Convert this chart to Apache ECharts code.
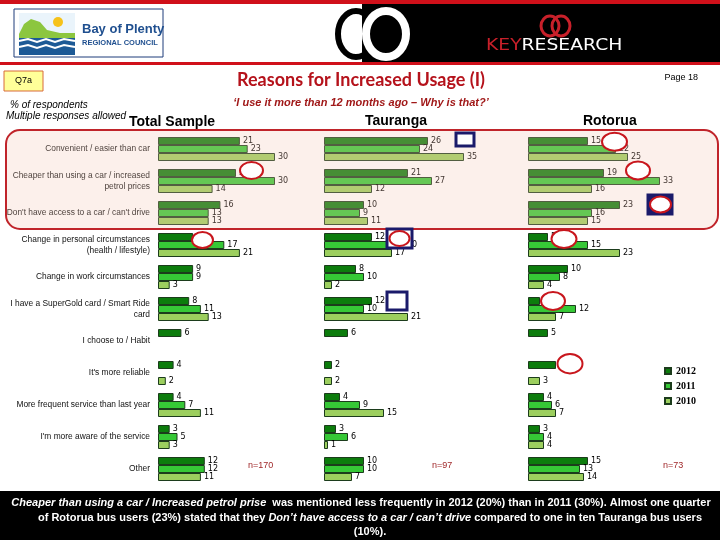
<!DOCTYPE html>
<html><head><meta charset="utf-8">
<script src="https://cdn.jsdelivr.net/npm/echarts@6/dist/echarts.min.js"></script>
<style>html,body{margin:0;padding:0;background:#fff}#c{width:720px;height:540px}</style>
</head><body><div id="c"></div>
<script>
const categories = [
  'Convenient / easier than car',
  'Cheaper than using a car / increased\npetrol prices',
  "Don't have access to a car / can't drive",
  'Change in personal circumstances\n(health / lifestyle)',
  'Change in work circumstances',
  'I have a SuperGold card / Smart Ride\ncard',
  'I choose to / Habit',
  "It's more reliable",
  'More frequent service than last year',
  "I'm more aware of the service",
  'Other'
];
const years = ['2012', '2011', '2010'];
const total2012 = [21, 20, 16, 9, 9, 8, 6, 4, 4, 3, 12];
const total2011 = [23, 30, 13, 17, 9, 11, null, null, 7, 5, 12];
const total2010 = [30, 14, 13, 21, 3, 13, null, 2, 11, 3, 11];
const tauranga2012 = [26, 21, 10, 12, 8, 12, 6, 2, 4, 3, 10];
const tauranga2011 = [24, 27, 9, 20, 10, 10, null, null, 9, 6, 10];
const tauranga2010 = [35, 12, 11, 17, 2, 21, null, 2, 15, 1, 7];
const rotorua2012 = [15, 19, 23, 5, 10, 3, 5, 7, 4, 3, 15];
const rotorua2011 = [22, 33, 16, 15, 8, 12, null, null, 6, 4, 13];
const rotorua2010 = [25, 16, 15, 23, 4, 7, null, 3, 7, 4, 14];
const panelTitles = ['Total Sample', 'Tauranga', 'Rotorua'];
const sampleSizes = ['n=170', 'n=97', 'n=73'];

const panels = [
  [total2012, total2011, total2010],
  [tauranga2012, tauranga2011, tauranga2010],
  [rotorua2012, rotorua2011, rotorua2010]
];
const colors = ['#0c7c0c', '#36c836', '#9ccf5e'];
const F = 'Liberation Sans, Arial, sans-serif';
const grids = [
  {left: 158, top: 133, width: 156, height: 352},
  {left: 324, top: 133, width: 160, height: 352},
  {left: 528, top: 133, width: 160, height: 352}
];

const series = [];
panels.forEach((p, pi) => {
  p.forEach((d, yi) => {
    series.push({
      type: 'bar', name: years[yi], xAxisIndex: pi, yAxisIndex: pi, data: d,
      barGap: '0%', barCategoryGap: '25%',
      itemStyle: {color: colors[yi], borderColor: '#1c3c1c', borderWidth: 1},
      label: {show: true, position: 'right', distance: 3, fontSize: 8, color: '#000', fontFamily: 'DejaVu Sans, sans-serif',
        formatter: (pr) => pr.value == null ? '' : String(pr.value)}
    });
  });
});

function ell(cx, cy, rx, ry) {
  return {type: 'ellipse', z: 60, shape: {cx, cy, rx, ry}, style: {fill: '#fff', stroke: '#c8161d', lineWidth: 2}};
}
function sq(x, y, w, h, fill) {
  return {type: 'rect', z: 58, shape: {x, y, width: w, height: h}, style: {fill: fill || '#fff', stroke: '#1a1a6a', lineWidth: 3}};
}

const graphic = [
  // header
  {type: 'rect', shape: {x: 0, y: 0, width: 720, height: 4}, style: {fill: '#d0101a'}},
  {type: 'rect', shape: {x: 0, y: 62, width: 720, height: 3}, style: {fill: '#d0101a'}},
  {type: 'rect', shape: {x: 362, y: 4, width: 358, height: 58}, style: {fill: '#000'}},
  {type: 'ellipse', shape: {cx: 356, cy: 34, rx: 18, ry: 23}, style: {fill: 'none', stroke: '#000', lineWidth: 6}},
  {type: 'ellipse', shape: {cx: 386, cy: 34, rx: 20, ry: 23}, style: {fill: 'none', stroke: '#fff', lineWidth: 8}},
  {type: 'ellipse', shape: {cx: 550, cy: 26, rx: 9, ry: 10}, style: {fill: 'none', stroke: '#c8202a', lineWidth: 3}},
  {type: 'ellipse', shape: {cx: 561, cy: 26, rx: 9, ry: 10}, style: {fill: 'none', stroke: '#c8202a', lineWidth: 3}},
  {type: 'text', x: 486, y: 46, scaleX: 1.25, style: {text: '{r|KEY}{w|RESEARCH}', verticalAlign: 'middle',
    rich: {r: {fill: '#c8202a', font: '15px DejaVu Sans, sans-serif'}, w: {fill: '#fff', font: '15px DejaVu Sans, sans-serif'}}}},
  // BOP logo
  {type: 'rect', shape: {x: 14, y: 9, width: 149, height: 48}, style: {fill: '#fff', stroke: '#1f3c7a', lineWidth: 1}},
  {type: 'rect', shape: {x: 19, y: 13, width: 56, height: 42}, style: {fill: '#eaf4fb'}},
  {type: 'circle', shape: {cx: 58, cy: 22, r: 5}, style: {fill: '#f6c21a'}},
  {type: 'polygon', shape: {points: [[19, 34], [24, 24], [31, 19], [40, 22], [47, 30], [60, 33], [75, 33], [75, 41], [19, 41]]}, style: {fill: '#8cc63f'}},
  {type: 'rect', shape: {x: 19, y: 38, width: 56, height: 17}, style: {fill: '#1d5a96'}},
  {type: 'polyline', shape: {points: [[19, 41], [28, 39], [37, 42], [46, 39], [55, 42], [64, 39], [75, 41]]}, style: {stroke: '#fff', lineWidth: 2, fill: 'none'}},
  {type: 'polyline', shape: {points: [[19, 47], [28, 45], [37, 48], [46, 45], [55, 48], [64, 45], [75, 47]]}, style: {stroke: '#fff', lineWidth: 2, fill: 'none'}},
  {type: 'text', x: 82, y: 29, style: {text: 'Bay of Plenty', fill: '#1f4f8f', font: 'bold 13px ' + F, verticalAlign: 'middle'}},
  {type: 'text', x: 82, y: 43, style: {text: 'REGIONAL COUNCIL', fill: '#1f4f8f', font: 'bold 7.5px ' + F, verticalAlign: 'middle'}},
  // titles
  {type: 'rect', shape: {x: 4, y: 71, width: 39, height: 20}, style: {fill: '#ffff99', stroke: '#d86a3a', lineWidth: 1}},
  {type: 'text', x: 23.5, y: 81, style: {text: 'Q7a', fill: '#000', font: '9px ' + F, align: 'center', verticalAlign: 'middle'}},
  {type: 'text', x: 361, y: 80, style: {text: 'Reasons for Increased Usage (I)', fill: '#b5121b', font: 'bold 18px Lato, Open Sans, sans-serif', align: 'center', verticalAlign: 'middle'}},
  {type: 'text', x: 698, y: 78, style: {text: 'Page 18', fill: '#000', font: '9px ' + F, align: 'right', verticalAlign: 'middle'}},
  {type: 'text', x: 10, y: 105, style: {text: '% of respondents', fill: '#000', font: 'italic 10px ' + F, verticalAlign: 'middle'}},
  {type: 'text', x: 6, y: 116, style: {text: 'Multiple responses allowed', fill: '#000', font: 'italic 10px ' + F, verticalAlign: 'middle'}},
  {type: 'text', x: 361, y: 103, style: {text: '\u2018I use it more than 12 months ago \u2013 Why is that?\u2019', fill: '#a01818', font: 'italic bold 11px ' + F, align: 'center', verticalAlign: 'middle'}},
  {type: 'text', x: 129, y: 122, style: {text: panelTitles[0], fill: '#000', font: 'bold 14px ' + F, verticalAlign: 'middle'}},
  {type: 'text', x: 365, y: 121, style: {text: panelTitles[1], fill: '#000', font: 'bold 14px ' + F, verticalAlign: 'middle'}},
  {type: 'text', x: 583, y: 121, style: {text: panelTitles[2], fill: '#000', font: 'bold 14px ' + F, verticalAlign: 'middle'}},
  {type: 'text', x: 248, y: 466, style: {text: sampleSizes[0], fill: '#a0282a', font: '9px ' + F, verticalAlign: 'middle'}},
  {type: 'text', x: 432, y: 466, style: {text: sampleSizes[1], fill: '#a0282a', font: '9px ' + F, verticalAlign: 'middle'}},
  {type: 'text', x: 663, y: 466, style: {text: sampleSizes[2], fill: '#a0282a', font: '9px ' + F, verticalAlign: 'middle'}},
  // highlighted region
  {type: 'rect', z: 50, shape: {x: 6, y: 130, width: 712, height: 99, r: 14}, style: {fill: 'rgba(245,195,175,0.25)', stroke: '#c0242a', lineWidth: 2}},
  // annotations
  ell(251.5, 170.5, 11.5, 8.5),
  ell(202.5, 240, 10.5, 8),
  sq(456, 133, 18, 13),
  sq(387, 229, 25, 19),
  ell(399.5, 238.5, 10, 7.5),
  sq(387, 292, 20, 18),
  ell(614.5, 141.7, 12.5, 9),
  ell(638, 170.5, 12, 9),
  sq(648, 195, 24, 19, '#1a1a6a'),
  ell(660.5, 204.5, 10.5, 8),
  ell(564, 239, 12.5, 9),
  ell(553, 301, 12, 9),
  ell(570, 363.7, 12.5, 9.7),
  // bottom summary
  {type: 'rect', shape: {x: 0, y: 491, width: 720, height: 49}, style: {fill: '#000'}},
  {type: 'text', x: 361, y: 503, style: {text: '{i|Cheaper than using a car / Increased petrol prise}{n|  was mentioned less frequently in 2012 (20%) than in 2011 (30%). Almost one quarter}',
    align: 'center', verticalAlign: 'middle', rich: {i: {fill: '#fff', font: 'italic bold 11px Liberation Sans Narrow, Arial Narrow, sans-serif'}, n: {fill: '#fff', font: 'bold 11px Liberation Sans Narrow, Arial Narrow, sans-serif'}}}},
  {type: 'text', x: 370, y: 518, style: {text: '{n|of Rotorua bus users (23%) stated that they }{i|Don\u2019t have access to a car / can\u2019t drive}{n| compared to one in ten Tauranga bus users}',
    align: 'center', verticalAlign: 'middle', rich: {i: {fill: '#fff', font: 'italic bold 11px Liberation Sans Narrow, Arial Narrow, sans-serif'}, n: {fill: '#fff', font: 'bold 11px Liberation Sans Narrow, Arial Narrow, sans-serif'}}}},
  {type: 'text', x: 370, y: 532, style: {text: '(10%).', fill: '#fff', font: 'bold 11px Liberation Sans Narrow, Arial Narrow, sans-serif', align: 'center', verticalAlign: 'middle'}}
];

const chart = echarts.init(document.getElementById('c'), null, {renderer: 'canvas'});
chart.setOption({
  animation: false,
  backgroundColor: '#fff',
  grid: grids,
  xAxis: grids.map((g, i) => ({type: 'value', gridIndex: i, min: 0, max: 40, show: false})),
  yAxis: grids.map((g, i) => ({
    type: 'category', gridIndex: i, data: categories, inverse: true,
    axisLine: {show: false}, axisTick: {show: false}, splitLine: {show: false},
    axisLabel: {show: i === 0, margin: 8, fontSize: 8.4, lineHeight: 11, color: '#111', fontFamily: F}
  })),
  legend: {
    data: years, orient: 'vertical', left: 659, top: 361, itemWidth: 6, itemHeight: 6, itemGap: 5,
    icon: 'rect', textStyle: {fontSize: 10, fontWeight: 'bold', fontFamily: 'Liberation Serif, serif', color: '#000'}
  },
  series: series,
  graphic: graphic
});
</script>
</body></html>
